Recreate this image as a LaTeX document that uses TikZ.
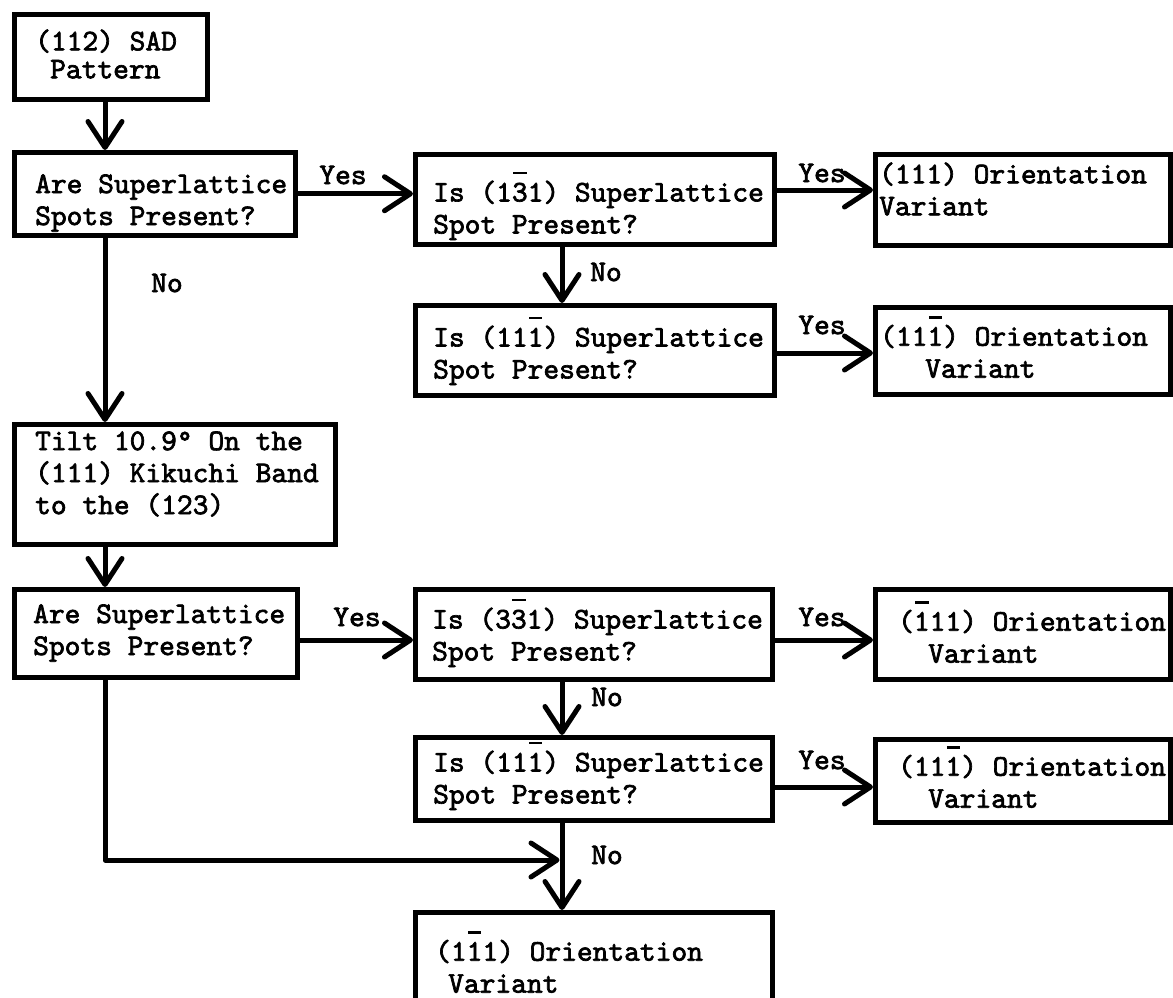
\documentclass[tikz,border=0pt]{standalone}
\usepackage{fontspec}
\newfontfamily\tw{lmmono10-regular.otf}[FakeBold=2.2]
\usetikzlibrary{arrows.meta}
\newcommand\twf{\tw\fontsize{30}{32}\selectfont}
\newcommand\ob[1]{\leavevmode\rlap{\hspace{0.05em}\rule[0.9em]{0.44em}{2.6pt}}#1}
\tikzset{
  box/.style={draw, line width=4.5pt, rectangle, inner sep=0pt, anchor=north west},
  txt/.style={font=\twf, align=left, anchor=west, inner sep=0pt},
  lbl/.style={font=\twf, inner sep=0pt},
  conn/.style={line width=5pt, line join=round,
    -{Straight Barb[length=26pt,width=34pt,line width=5pt,round]}},
}
\begin{document}
\begin{tikzpicture}[x=1pt,y=-1pt]
\fill[white] (0,0) rectangle (1173,997);
\useasboundingbox (0,0) rectangle (1173,997);
% boxes
\node[box, minimum width=193pt, minimum height=85pt] (b1) at (12,12) {};
\node[box, minimum width=281pt, minimum height=83pt] (b2) at (12,150) {};
\node[box, minimum width=359pt, minimum height=90pt] (b3) at (413,152) {};
\node[box, minimum width=359pt, minimum height=90pt] (b4) at (413,303) {};
\node[box, minimum width=295pt, minimum height=91pt] (b5) at (873,152) {};
\node[box, minimum width=295pt, minimum height=87pt] (b6) at (873,305) {};
\node[box, minimum width=321pt, minimum height=120pt] (b7) at (12,422) {};
\node[box, minimum width=283pt, minimum height=88pt] (b8) at (12,587) {};
\node[box, minimum width=357pt, minimum height=90pt] (b9) at (413,587) {};
\node[box, minimum width=357pt, minimum height=83pt] (b10) at (413,735) {};
\node[box, minimum width=295pt, minimum height=90pt] (b11) at (873,587) {};
\node[box, minimum width=295pt, minimum height=83pt] (b12) at (873,737) {};
\node[box, minimum width=357pt, minimum height=95pt] (b13) at (413,910) {};
% texts
\node[txt] (t1) at (35,54) {(112) SAD\\[-4pt]\hspace{15pt}Pattern};
\node[txt] (t2) at (35,203) {Are Superlattice\\Spots Present?};
\node[txt] (t3) at (433,206) {Is (1\ob{3}1) Superlattice\\Spot Present?};
\node[txt] (t4) at (433,351) {Is (11\ob{1}) Superlattice\\Spot Present?};
\node[txt] (t5) at (879,189) {(111) Orientation\\Variant};
\node[txt] (t6) at (880,347) {(11\ob{1}) Orientation\\\hspace{45pt}Variant};
\node[txt] (t7) at (35,474) {Tilt 10.9° On the\\(111) Kikuchi Band\\to the (123)};
\node[txt] (t8) at (33,633) {Are Superlattice\\Spots Present?};
\node[txt] (t9) at (432,633) {Is (3\ob{3}1) Superlattice\\Spot Present?};
\node[txt] (t10) at (433,776) {Is (11\ob{1}) Superlattice\\Spot Present?};
\node[txt] (t11) at (898,632) {(\ob{1}11) Orientation\\\hspace{30pt}Variant};
\node[txt] (t12) at (898,777) {(11\ob{1}) Orientation\\\hspace{30pt}Variant};
\node[txt] (t13) at (435,962) {(1\ob{1}1) Orientation\\\hspace{13pt}Variant};
% connector helpers
\coordinate (lx) at (105,0);
\coordinate (rx) at (562,0);
\coordinate (y1) at (0,190);
\coordinate (y2) at (0,353);
\coordinate (y3) at (0,640);
\coordinate (y4) at (0,787);
\coordinate (jn) at (559.5,860);
% connectors
\draw[conn] (b1.south -| lx) -- (b2.north -| lx);
\draw[conn] (b2.south -| lx) -- (b7.north -| lx);
\draw[conn] (b7.south -| lx) -- (b8.north -| lx);
\draw[conn] (b2.east) -- (b2.east -| b3.west);
\draw[conn] (b3.east |- y1) -- (b5.west |- y1);
\draw[conn] (b3.south -| rx) -- (b4.north -| rx);
\draw[conn] (b4.east |- y2) -- (b6.west |- y2);
\draw[conn] (b8.east |- y3) -- (b9.west |- y3);
\draw[conn] (b9.east |- y3) -- (b11.west |- y3);
\draw[conn] (b9.south -| rx) -- (b10.north -| rx);
\draw[conn] (b10.east |- y4) -- (b12.west |- y4);
\draw[conn] (b10.south -| rx) -- (b13.north -| rx);
\draw[conn] (b8.south -| lx) |- (jn);
% labels
\node[lbl] (l1) at (343,175) {Yes};
\node[lbl] (l2) at (822,173) {Yes};
\node[lbl] (l3) at (606,272) {No};
\node[lbl] (l4) at (822,325) {Yes};
\node[lbl] (l5) at (167,283) {No};
\node[lbl] (l6) at (357,617) {Yes};
\node[lbl] (l7) at (822,617) {Yes};
\node[lbl] (l8) at (607,697) {No};
\node[lbl] (l9) at (822,760) {Yes};
\node[lbl] (l10) at (607,855) {No};
\end{tikzpicture}
\end{document}
